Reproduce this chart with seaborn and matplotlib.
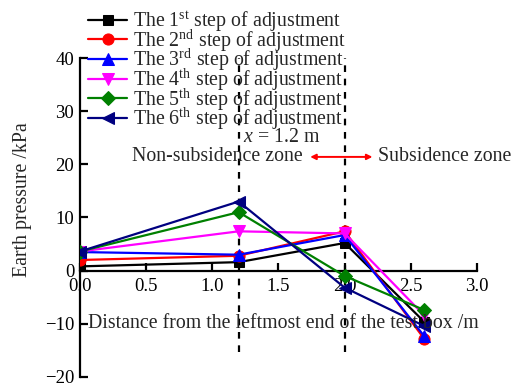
import matplotlib
matplotlib.use('Agg')
import matplotlib.pyplot as plt
import seaborn as sns
import pandas as pd

# 数据
positions = [0.0, 1.2, 2.0, 2.6]
step1 = [0.8, 1.6, 5.2, -9.6]
step2 = [2.0, 2.8, 7.4, -12.8]
step3 = [3.5, 3.0, 6.7, -12.3]
step4 = [3.6, 7.4, 7.0, -8.4]
step5 = [3.6, 11.0, -1.0, -7.4]
step6 = [3.6, 13.0, -3.2, -10.4]

labels = [r'The 1$^{\rm st}$ step of adjustment',
          r'The 2$^{\rm nd}$ step of adjustment',
          r'The 3$^{\rm rd}$ step of adjustment',
          r'The 4$^{\rm th}$ step of adjustment',
          r'The 5$^{\rm th}$ step of adjustment',
          r'The 6$^{\rm th}$ step of adjustment']
series = [step1, step2, step3, step4, step5, step6]
colors = ['black', 'red', 'blue', 'magenta', 'green', 'navy']
markers = ['s', 'o', '^', 'v', 'D', '<']
msizes = [7, 8, 8, 8, 7, 8]

sns.set_style('ticks')
plt.rcParams['font.family'] = ['Liberation Serif', 'DejaVu Serif']
plt.rcParams['mathtext.fontset'] = 'custom'
plt.rcParams['mathtext.rm'] = 'Liberation Serif'
plt.rcParams['mathtext.it'] = 'Liberation Serif:italic'

FS = 14.3

fig = plt.figure(figsize=(5.18, 3.87), dpi=100)
ax = fig.add_axes([0.154, 0.026, 0.767, 0.824])

# 垂直虚线
for xv in [1.2, 2.0]:
    ax.plot([xv, xv], [-15.3, 40], color='black', lw=1.6, ls=(0, (3, 3)), zorder=1)

# 绘制折线
for vals, lab, c, m, ms in zip(series, labels, colors, markers, msizes):
    df = pd.DataFrame({'x': positions, 'y': vals})
    sns.lineplot(data=df, x='x', y='y', ax=ax, color=c, marker=m, markersize=ms,
                 markeredgecolor=c, lw=1.6, label=lab, zorder=3)

ax.set_xlim(0, 3.0)
ax.set_ylim(-20, 40)
ax.set_xticks([0.0, 0.5, 1.0, 1.5, 2.0, 2.5, 3.0])
ax.set_xticklabels(['0.0', '0.5', '1.0', '1.5', '2.0', '2.5', '3.0'])
ax.set_yticks([-20, -10, 0, 10, 20, 30, 40])
ax.spines['top'].set_visible(False)
ax.spines['right'].set_visible(False)
ax.spines['bottom'].set_position(('data', 0))
for s in ['left', 'bottom']:
    ax.spines[s].set_linewidth(1.6)
    ax.spines[s].set_color('black')
ax.tick_params(direction='in', length=6, width=1.6, labelsize=13.5, colors='black', pad=4)
ax.tick_params(axis='x', pad=5)

ax.set_xlabel('')
ax.set_ylabel('Earth pressure /kPa', fontsize=FS)
ax.yaxis.set_label_coords(-0.12, 0.555)
ax.text(1.54, -10, 'Distance from the leftmost end of the test box /m', fontsize=FS,
        ha='center', va='center')

# 注释
ax.text(1.23, 25.0, r'$x$ = 1.2 m', fontsize=FS, ha='left', va='center')
ax.text(1.68, 21.4, 'Non-subsidence zone', fontsize=FS, ha='right', va='center')
ax.text(2.25, 21.4, 'Subsidence zone', fontsize=FS, ha='left', va='center')
ax.annotate('', xy=(1.74, 21.4), xytext=(2.21, 21.4),
            arrowprops=dict(arrowstyle='<|-|>', color='red', lw=1.4,
                            mutation_scale=8, shrinkA=0, shrinkB=0))

leg = ax.legend(loc='upper left', bbox_to_anchor=(-0.01, 1.19), frameon=False, fontsize=FS,
                handlelength=2.0, handletextpad=0.3, labelspacing=-0.33, borderpad=0.1)

fig.savefig('out.png', dpi=100)
